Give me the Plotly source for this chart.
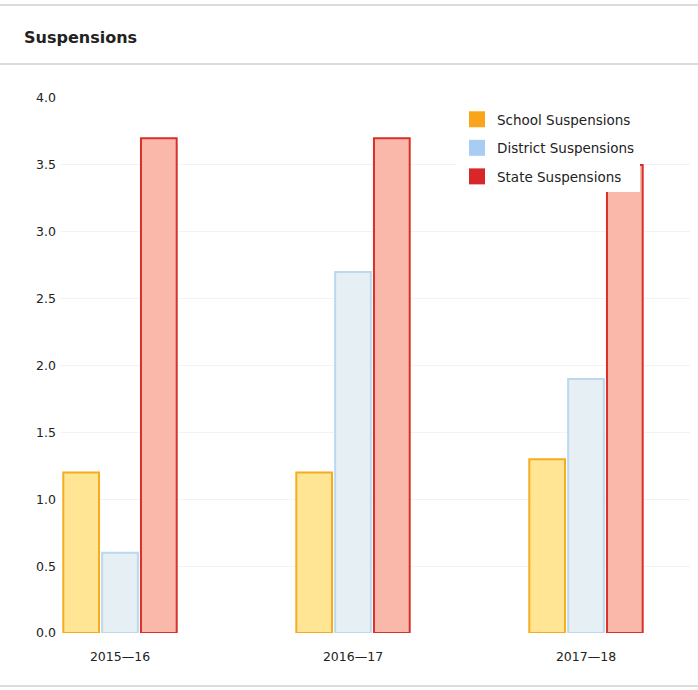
import plotly.graph_objects as go

categories = ["2015\u201416", "2016\u201417", "2017\u201418"]
school = [1.2, 1.2, 1.3]
district = [0.6, 2.7, 1.9]
state = [3.7, 3.7, 3.5]
series_names = ["School Suspensions", "District Suspensions", "State Suspensions"]
y_ticks = [0.0, 0.5, 1.0, 1.5, 2.0, 2.5, 3.0, 3.5, 4.0]

fills = ["#FFE594", "#E6EFF3", "#F9B8AA"]
borders = ["#F5AC1E", "#BBD9EE", "#D8302A"]
legend_cols = ["#F8A51C", "#A8CDF3", "#D9262A"]

fig = go.Figure()
xs = list(range(len(categories)))
for name, vals, f, b in zip(series_names, [school, district, state], fills, borders):
    fig.add_trace(go.Bar(x=xs, y=vals, name=name, marker=dict(color=f, line=dict(color=b, width=2)),
                         showlegend=False))
for i, (name, c) in enumerate(zip(series_names, legend_cols)):
    fig.add_trace(go.Scatter(x=[None], y=[None], name=name, mode="markers", legendgroup=f"g{i}",
                             marker=dict(symbol="square", size=17, color=c), showlegend=True))

pw = 698 - 60 - 8
ph = 690 - 98 - 57

fig.update_layout(
    width=698, height=690,
    margin=dict(l=60, r=8, t=98, b=57),
    paper_bgcolor="white", plot_bgcolor="white",
    barmode="group", bargap=0.5, bargroupgap=0.08,
    font=dict(family="DejaVu Sans", size=12, color="#222"),
    showlegend=True,
    legend=dict(x=(457 - 60) / pw, y=(633 - 104) / ph, xanchor="left", yanchor="top", bgcolor="white",
                font=dict(size=13.5, color="#222"), tracegroupgap=8, itemwidth=30),
    annotations=[dict(text="<b>Suspensions</b>", x=(22 - 60) / pw, y=(633 - 38) / ph,
                      xref="paper", yref="paper", xanchor="left", yanchor="middle",
                      showarrow=False, font=dict(size=16, color="#222"))],
)

def hline(ypix, color="#d0d0d0", w=1.5):
    yp = (633 - ypix) / ph
    fig.add_shape(type="line", xref="paper", yref="paper", x0=(0 - 60) / pw, x1=(698 - 60) / pw,
                  y0=yp, y1=yp, line=dict(color=color, width=w))

hline(5)
hline(64)
hline(686)

fig.update_xaxes(range=[-60 / 233, -60 / 233 + pw / 233], tickvals=xs, ticktext=categories,
                 showgrid=False, zeroline=False, showline=False, ticks="", tickfont=dict(size=12.5),
                 ticklabelstandoff=14)
fig.update_yaxes(range=[0, 4], tickvals=y_ticks, tickformat=".1f", showgrid=True, gridcolor="#f3f3f3",
                 zeroline=False, showline=False, ticks="", tickfont=dict(size=12.5), ticklabelstandoff=3)

fig.write_html("out.html")
